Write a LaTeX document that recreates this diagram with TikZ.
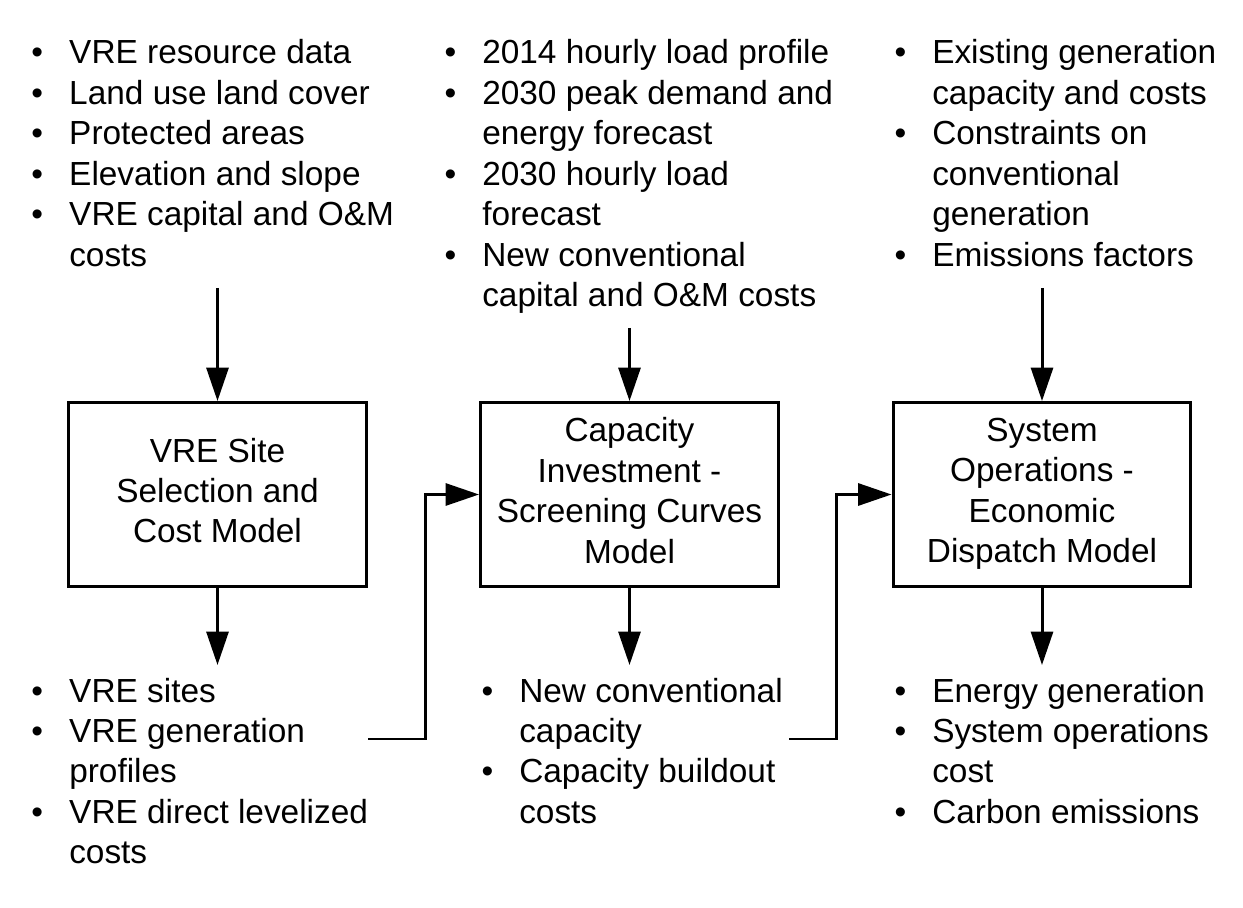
\documentclass[tikz,border=0pt]{standalone}
\usepackage{fontspec}
\setmainfont{Liberation Sans}
\usetikzlibrary{arrows.meta}
\newcommand{\itemlist}[1]{\begin{tabular}[t]{@{}p{21.5pt}@{}l@{}}#1\end{tabular}}
\newcommand{\bul}{\textbullet}
\begin{document}
\begin{tikzpicture}[x=0.02cm,y=-0.02cm,line width=1.7pt,
    >={Triangle[length=19pt,width=12.5pt]},
    every node/.style={font=\fontsize{19}{23}\selectfont},
    model/.style={draw,line width=1.7pt,minimum width=5.96cm,minimum height=3.68cm,align=center,inner sep=0pt,text depth=4.6pt},
    list/.style={anchor=base west,inner sep=0pt}]
\useasboundingbox (0,0) rectangle (1243,908);
% models
\node[model] (vre) at (217.5,494.5) {VRE Site\\Selection and\\Cost Model};
\node[model] (cap) at (629.5,494.5) {Capacity\\Investment -\\Screening Curves\\Model};
\node[model] (sys) at (1042,494.5) {System\\Operations -\\Economic\\Dispatch Model};
% inputs
\node[list] (vreIn) at (30,64) {\itemlist{
    \bul & VRE resource data\\
    \bul & Land use land cover\\
    \bul & Protected areas\\
    \bul & Elevation and slope\\
    \bul & VRE capital and O\&M\\
         & costs}};
\node[list] (capIn) at (443,64) {\itemlist{
    \bul & 2014 hourly load profile\\
    \bul & 2030 peak demand and\\
         & energy forecast\\
    \bul & 2030 hourly load\\
         & forecast\\
    \bul & New conventional\\
         & capital and O\&M costs}};
\node[list] (sysIn) at (893,64) {\itemlist{
    \bul & Existing generation\\
         & capacity and costs\\
    \bul & Constraints on\\
         & conventional\\
         & generation\\
    \bul & Emissions factors}};
% outputs
\node[list] (vreOutList) at (30,702) {\itemlist{
    \bul & VRE sites\\
    \bul & VRE generation\\
         & profiles\\
    \bul & VRE direct levelized\\
         & costs}};
\node[list] (capOutList) at (480,702) {\itemlist{
    \bul & New conventional\\
         & capacity\\
    \bul & Capacity buildout\\
         & costs}};
\node[list] (sysOutList) at (893,702) {\itemlist{
    \bul & Energy generation\\
    \bul & System operations\\
         & cost\\
    \bul & Carbon emissions}};
% arrows
\coordinate (vreTop) at (217.5,288);
\coordinate (capTop) at (629.5,328);
\coordinate (sysTop) at (1042,288);
\coordinate (vreBot) at (217.5,665);
\coordinate (capBot) at (629.5,665);
\coordinate (sysBot) at (1042,665);
\coordinate (vreOut) at (368,739);
\coordinate (capOut) at (789,739);
\draw[->] (vreTop) -- (vre.north);
\draw[->] (capTop) -- (cap.north);
\draw[->] (sysTop) -- (sys.north);
\draw[->] (vre.south) -- (vreBot);
\draw[->] (cap.south) -- (capBot);
\draw[->] (sys.south) -- (sysBot);
\draw[->] (vreOut) -- ++(57,0) |- (cap.west);
\draw[->] (capOut) -- ++(47,0) |- (sys.west);
\end{tikzpicture}
\end{document}
